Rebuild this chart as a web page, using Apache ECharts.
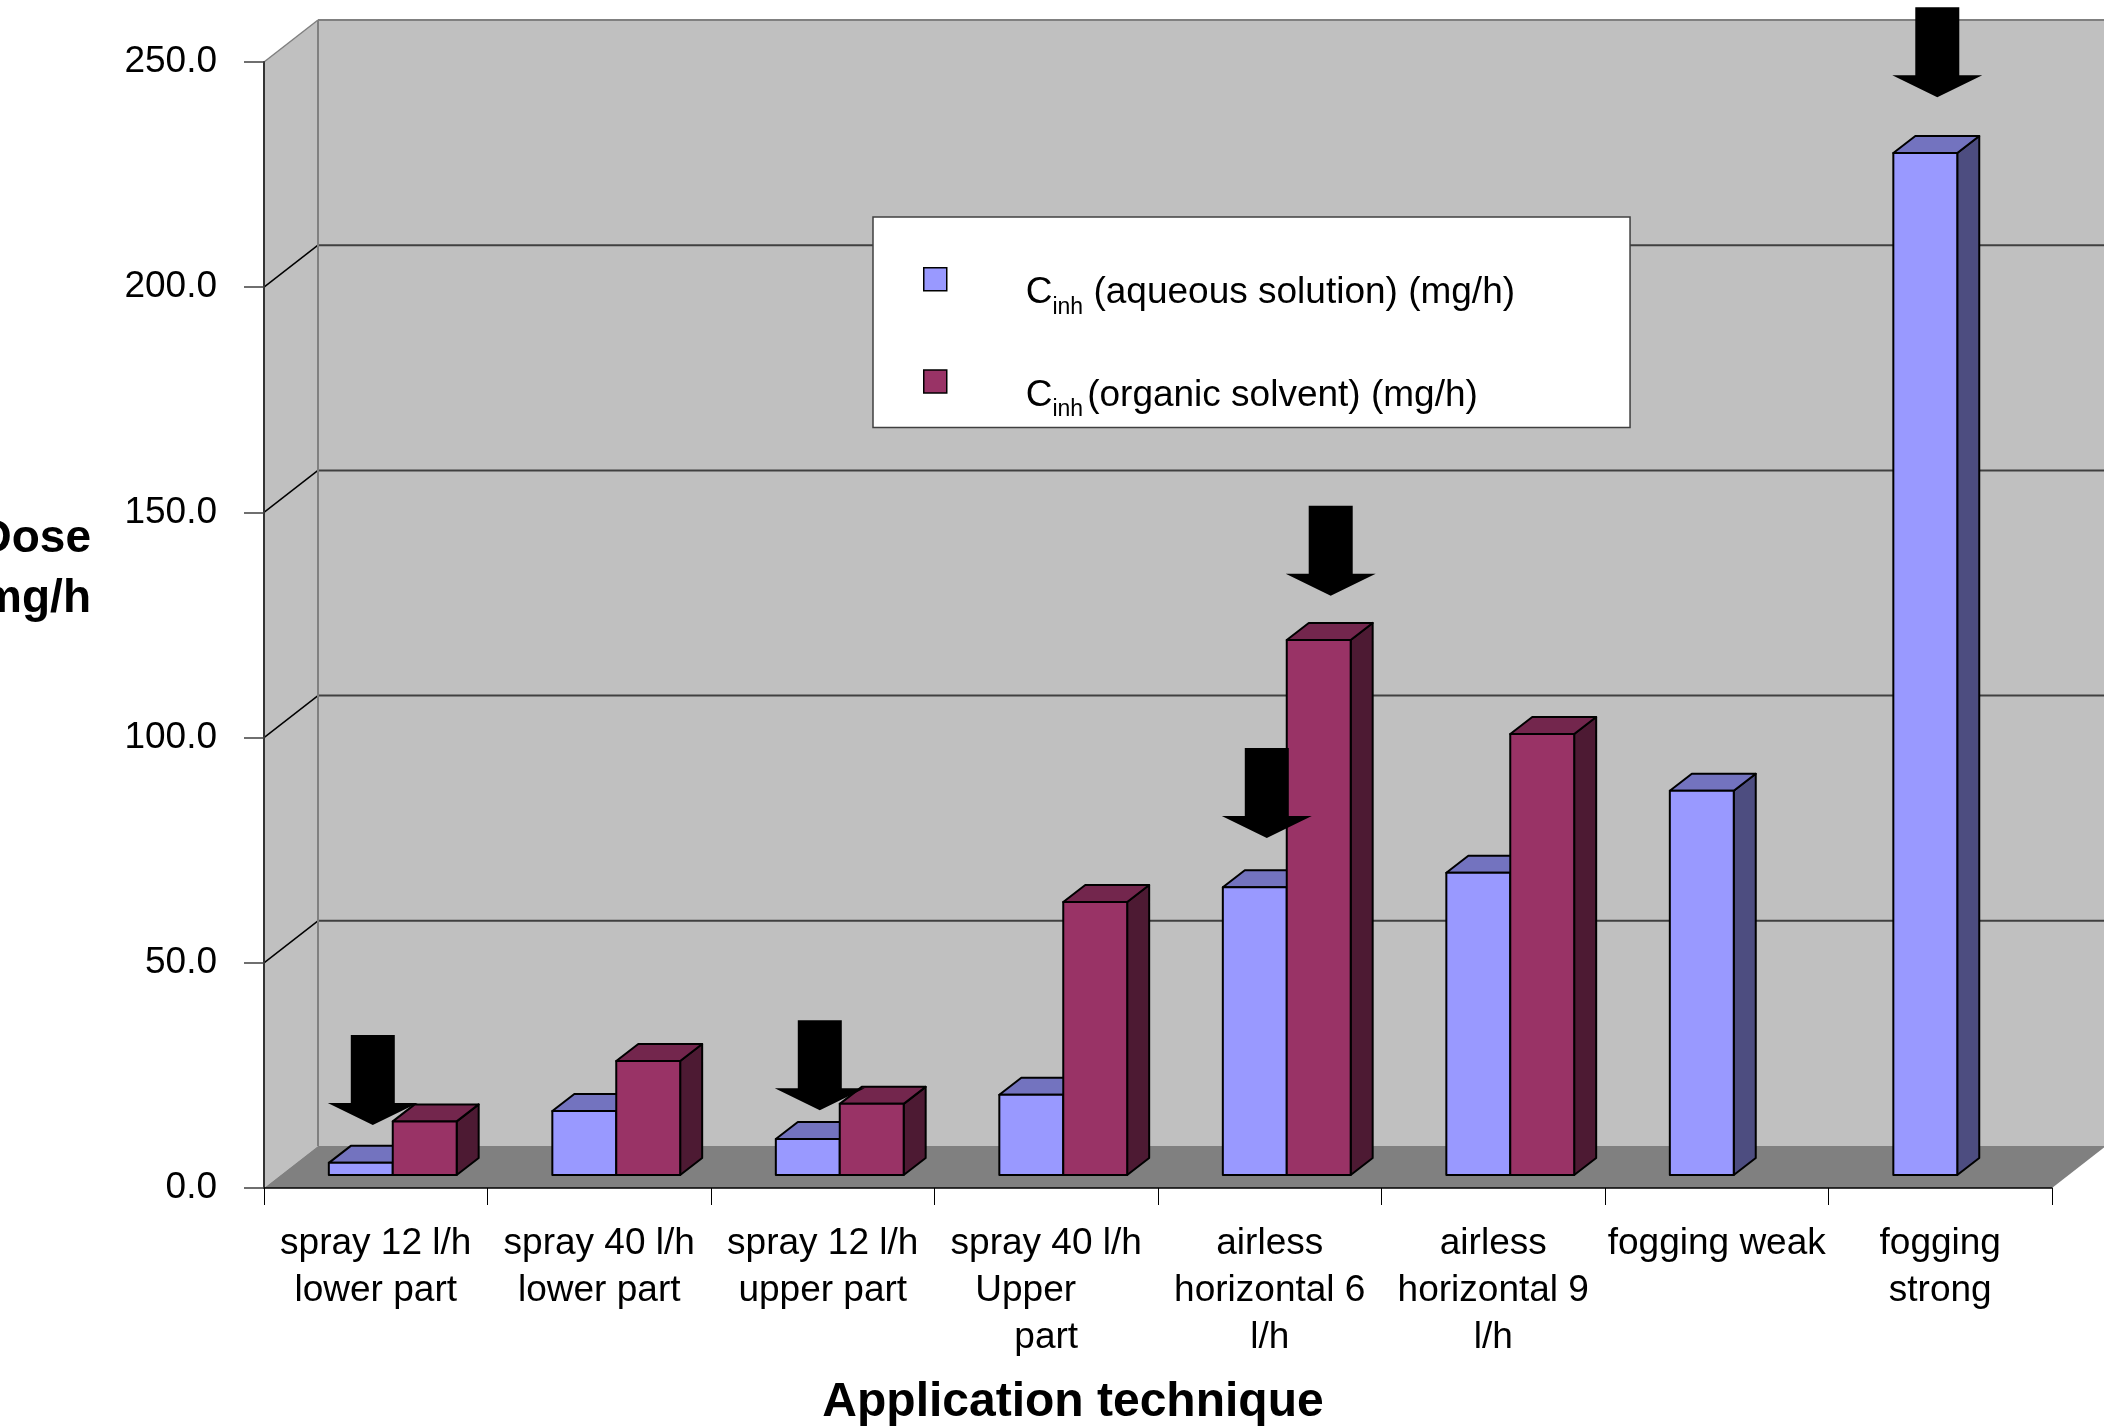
<!DOCTYPE html>
<html>
<head>
<meta charset="utf-8">
<script src="https://cdn.jsdelivr.net/npm/echarts@6/dist/echarts.min.js"></script>
<style>
  html, body { margin: 0; padding: 0; background: #fff; }
  #chart { width: 2104px; height: 1428px; }
</style>
</head>
<body>
<div id="chart"></div>
<script>
// data
const categories = [
  'spray 12 l/h\nlower part',
  'spray 40 l/h\nlower part',
  'spray 12 l/h\nupper part',
  'spray 40 l/h\nUpper\u00a0\u00a0\u00a0\u00a0\npart',
  'airless\nhorizontal 6\nl/h',
  'airless\nhorizontal 9\nl/h',
  'fogging weak',
  'fogging\nstrong'
];
const aqueous = [2.7, 14.2, 8.0, 17.8, 63.9, 67.1, 85.3, 226.9];
const organic = [11.9, 25.3, 15.8, 60.6, 118.8, 97.9, null, null];
const yTicks = [0, 50, 100, 150, 200, 250];
// arrows: [category, series (0 aqueous, 1 organic), value the tip points at]
const arrows = [[0, 0, 11.1], [2, 0, 14.4], [4, 0, 74.8], [4, 1, 128.6], [7, 0, 239.3]];

const seriesNames = ['Cinh (aqueous solution) (mg/h)', 'Cinh (organic solvent) (mg/h)'];

// 3d look
const DX = 54, DY = -42;          // depth of the walls
const FRONT_DX = 17, FRONT_DY = -13; // bars front plane
const BDX = 22, BDY = -17;        // bar depth
const BAR_RATIO = 0.286;

const blue = { front: '#9999FF', top: '#7373BF', side: '#4D4D80' };
const red = { front: '#993366', top: '#73264D', side: '#4D1A33' };

function line(x1, y1, x2, y2, color, w) {
  return { type: 'line', shape: { x1: x1, y1: y1, x2: x2, y2: y2 }, style: { stroke: color, lineWidth: w } };
}

function renderWalls(params, api) {
  const cs = params.coordSys;
  const x0 = cs.x, x1 = cs.x + cs.width;
  const yT = api.coord([0, yTicks[yTicks.length - 1]])[1];
  const yB = api.coord([0, 0])[1];
  const ch = [];
  ch.push({ type: 'polygon', shape: { points: [[x0 + DX, yT + DY], [x1 + DX, yT + DY], [x1 + DX, yB + DY], [x0 + DX, yB + DY]] }, style: { fill: '#C0C0C0' } });
  ch.push({ type: 'polygon', shape: { points: [[x0, yT], [x0 + DX, yT + DY], [x0 + DX, yB + DY], [x0, yB]] }, style: { fill: '#C0C0C0' } });
  ch.push({ type: 'polygon', shape: { points: [[x0, yB], [x0 + DX, yB + DY], [x1 + DX, yB + DY], [x1, yB]] }, style: { fill: '#808080' } });
  yTicks.forEach(function (t, k) {
    if (t === 0) return;
    const y = api.coord([0, t])[1];
    const last = k === yTicks.length - 1;
    ch.push(line(x0, y, x0 + DX, y + DY, last ? '#808080' : '#000', 1.5));
    ch.push(line(x0 + DX, y + DY, x1 + DX, y + DY, last ? '#808080' : '#404040', 2));
  });
  ch.push(line(x0 + DX, yT + DY, x0 + DX, yB + DY, '#808080', 2));
  return { type: 'group', children: ch };
}

function barRenderer(slot, col) {
  return function (params, api) {
    const v = api.value(1);
    if (v == null || isNaN(v)) return;
    const i = api.value(0);
    const bw = api.size([1, 0])[0] * BAR_RATIO;
    const c0 = api.coord([i, 0]);
    const c1 = api.coord([i, v]);
    const xl = c0[0] - bw + slot * bw + FRONT_DX;
    const xr = xl + bw;
    const yb = c0[1] + FRONT_DY;
    const yt = c1[1] + FRONT_DY;
    const st = { stroke: '#000', lineWidth: 2, lineJoin: 'round' };
    return {
      type: 'group',
      children: [
        { type: 'polygon', shape: { points: [[xr, yt], [xr + BDX, yt + BDY], [xr + BDX, yb + BDY], [xr, yb]] }, style: Object.assign({ fill: col.side }, st) },
        { type: 'polygon', shape: { points: [[xl, yt], [xl + BDX, yt + BDY], [xr + BDX, yt + BDY], [xr, yt]] }, style: Object.assign({ fill: col.top }, st) },
        { type: 'rect', shape: { x: xl, y: yt, width: bw, height: yb - yt }, style: Object.assign({ fill: col.front }, st) }
      ]
    };
  };
}

function renderArrow(params, api) {
  const i = api.value(0), slot = api.value(1), v = api.value(2);
  const bw = api.size([1, 0])[0] * BAR_RATIO;
  const c = api.coord([i, v]);
  const tx = c[0] - bw + slot * bw + bw / 2 + FRONT_DX + 12;
  const ty = c[1] + FRONT_DY;
  return {
    type: 'polygon',
    shape: { points: [[tx - 22, ty - 90], [tx + 22, ty - 90], [tx + 22, ty - 22], [tx + 45, ty - 22], [tx, ty], [tx - 45, ty - 22], [tx - 22, ty - 22]] },
    style: { fill: '#000' }
  };
}

const FONT = '"Liberation Sans", Arial, sans-serif';
const legendRich = {
  c: { fontSize: 37, lineHeight: 40, fontFamily: FONT, color: '#000' },
  s: { fontSize: 23, lineHeight: 52, verticalAlign: 'bottom', fontFamily: FONT, color: '#000' },
  t: { fontSize: 37, lineHeight: 40, fontFamily: FONT, color: '#000' },
  t2: { fontSize: 37, lineHeight: 40, fontFamily: FONT, color: '#000', padding: [0, 0, 0, 4] }
};

const myChart = echarts.init(document.getElementById('chart'));
const option = {
  animation: false,
  backgroundColor: '#fff',
  textStyle: { fontFamily: FONT },
  grid: { left: 264, right: 52, top: 62, bottom: 240, containLabel: false, outerBoundsMode: 'none' },
  legend: {
    orient: 'vertical',
    left: 873,
    top: 217,
    padding: [50, 115, 6, 50],
    itemGap: 50,
    itemWidth: 23,
    itemHeight: 23,
    backgroundColor: '#fff',
    borderColor: '#404040',
    borderWidth: 1.5,
    selectedMode: false,
    data: [
      { name: seriesNames[0], icon: 'rect', itemStyle: { color: blue.front, borderColor: '#000', borderWidth: 1.5 } },
      { name: seriesNames[1], icon: 'rect', itemStyle: { color: red.front, borderColor: '#000', borderWidth: 1.5 } }
    ],
    formatter: function (name) {
      return name === seriesNames[0]
        ? '{c|C}{s|inh}{t| (aqueous solution) (mg/h)}'
        : '{c|C}{s|inh}{t2|(organic solvent) (mg/h)}';
    },
    textStyle: { padding: [28, 0, 0, 74], rich: legendRich }
  },
  xAxis: {
    type: 'category',
    data: categories,
    z: 5,
    boundaryGap: true,
    name: 'Application technique',
    nameLocation: 'middle',
    nameGap: 191,
    nameTextStyle: { fontSize: 48, fontWeight: 'bold', color: '#000', fontFamily: FONT, padding: [0, 170, 0, 0] },
    axisLine: { lineStyle: { color: '#000', width: 1.5 } },
    axisTick: { show: true, length: 17, interval: 0, lineStyle: { color: '#000', width: 1 } },
    axisLabel: { interval: 0, margin: 32, fontSize: 37, lineHeight: 47, color: '#000', fontFamily: FONT, align: 'center' },
    splitLine: { show: false }
  },
  yAxis: {
    type: 'value',
    min: 0,
    max: 250,
    interval: 50,
    z: 5,
    name: '{a|Dose}\n{a|mg/h}\n{b|\u00a0}',
    nameLocation: 'middle',
    nameRotate: 0,
    nameGap: 173,
    nameTextStyle: {
      color: '#000', align: 'right',
      rich: {
        a: { fontSize: 46, fontWeight: 'bold', color: '#000', fontFamily: FONT, lineHeight: 60, align: 'right' },
        b: { fontSize: 10, lineHeight: 112 }
      }
    },
    axisLine: { show: true, lineStyle: { color: '#333', width: 2 } },
    axisTick: { show: true, length: 20, lineStyle: { color: '#404040', width: 1.5 } },
    axisLabel: { margin: 47, fontSize: 37, color: '#000', fontFamily: FONT, formatter: function (v) { return v.toFixed(1); } },
    splitLine: { show: false }
  },
  series: [
    {
      type: 'custom', name: 'walls', z: 1, silent: true,
      renderItem: renderWalls, data: [[0, 0]]
    },
    {
      type: 'custom', name: seriesNames[0], z: 2, silent: true,
      itemStyle: { color: blue.front },
      renderItem: barRenderer(0, blue),
      encode: { x: 0, y: 1 },
      data: aqueous.map(function (v, i) { return [i, v]; })
    },
    {
      type: 'custom', name: seriesNames[1], z: 2, silent: true,
      itemStyle: { color: red.front },
      renderItem: barRenderer(1, red),
      encode: { x: 0, y: 1 },
      data: organic.map(function (v, i) { return [i, v]; })
    },
    {
      type: 'custom', name: 'arrows', z: 3, silent: true,
      renderItem: renderArrow,
      encode: { x: 0, y: 2 },
      data: arrows
    }
  ]
};
myChart.setOption(option);
window.addEventListener('resize', function () {
  myChart.resize();
});
</script>
</body>
</html>
